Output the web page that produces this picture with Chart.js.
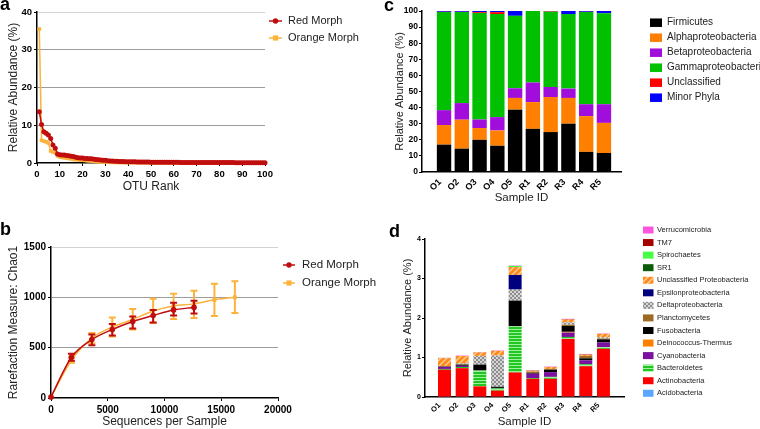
<!DOCTYPE html>
<html lang="en">
<head>
<meta charset="UTF-8">
<title>Morph microbiome figure</title>
<script src="https://cdn.jsdelivr.net/npm/chart.js@4"></script>
<style>
  body { margin: 0; background: #fff; font-family: "Liberation Sans", Arial, sans-serif; }
  #fig { position: relative; width: 760px; height: 429px; overflow: hidden; }
  canvas, .tag { position: absolute; }
  .tag { font-weight: bold; font-size: 18px; line-height: 18px; color: #000; }
</style>
</head>
<body>
<div id="fig">
  <canvas id="chartA" width="380" height="200" style="left:0;top:0"></canvas>
  <canvas id="chartB" width="380" height="229" style="left:0;top:200px"></canvas>
  <canvas id="chartC" width="380" height="212" style="left:380px;top:0"></canvas>
  <canvas id="chartD" width="380" height="214" style="left:380px;top:215px"></canvas>
  <div class="tag" style="left:0;top:-5px">a</div>
  <div class="tag" style="left:0;top:220px">b</div>
  <div class="tag" style="left:384px;top:-4px">c</div>
  <div class="tag" style="left:389px;top:222px">d</div>
</div>

<script>
// ---- panel a: rank abundance (OTU rank 1..100)
const redAbund = [13.6, 10.2, 8.3, 7.9, 7.4, 6.5, 4.8, 3.9, 2.4, 2.2,
  2.1, 2.1, 2.0, 1.9, 1.8, 1.7, 1.5, 1.4, 1.3, 1.3,
  1.2, 1.2, 1.1, 1.1, 1.0, 0.9, 0.85, 0.8, 0.75, 0.7,
  0.6, 0.55, 0.5, 0.48, 0.45, 0.42, 0.4, 0.38, 0.36, 0.34,
  0.32, 0.31, 0.3, 0.29, 0.28, 0.27, 0.26, 0.25, 0.24, 0.23,
  0.22, 0.22, 0.21, 0.21, 0.2, 0.2, 0.19, 0.19, 0.18, 0.18,
  0.17, 0.17, 0.16, 0.16, 0.15, 0.15, 0.15, 0.14, 0.14, 0.14,
  0.13, 0.13, 0.13, 0.12, 0.12, 0.12, 0.12, 0.11, 0.11, 0.11,
  0.11, 0.1, 0.1, 0.1, 0.1, 0.1, 0.09, 0.09, 0.09, 0.09,
  0.09, 0.08, 0.08, 0.08, 0.08, 0.08, 0.08, 0.07, 0.07, 0.07];
const orangeAbund = [35.5, 6.0, 5.8, 5.6, 5.3, 3.2, 2.9, 2.7, 1.9, 1.6,
  1.5, 1.4, 1.3, 1.2, 1.1, 0.95, 0.9, 0.85, 0.8, 0.75,
  0.7, 0.6, 0.55, 0.5, 0.45, 0.4, 0.35, 0.3, 0.28, 0.25,
  0.22, 0.2, 0.18, 0.17, 0.16, 0.15, 0.14, 0.13, 0.12, 0.12,
  0.11, 0.11, 0.1, 0.1, 0.1, 0.09, 0.09, 0.09, 0.08, 0.08,
  0.08, 0.08, 0.07, 0.07, 0.07, 0.07, 0.06, 0.06, 0.06, 0.06,
  0.06, 0.05, 0.05, 0.05, 0.05, 0.05, 0.05, 0.05, 0.05, 0.05,
  0.05, 0.05, 0.04, 0.04, 0.04, 0.04, 0.04, 0.04, 0.04, 0.04,
  0.04, 0.04, 0.04, 0.04, 0.04, 0.04, 0.04, 0.03, 0.03, 0.03,
  0.03, 0.03, 0.03, 0.03, 0.03, 0.03, 0.03, 0.03, 0.03, 0.03];

// ---- panel b: rarefaction (Chao1)
const seqDepth = [0, 1800, 3600, 5400, 7200, 9000, 10800, 12600, 14400, 16200];
const redChao = [10, 405, 580, 680, 760, 820, 875, 900];
const redLow = [null, 370, 525, 620, 690, 750, 820, 840];
const redHigh = [null, 440, 630, 735, 810, 875, 945, 965];
const orangeChao = [10, 375, 595, 705, 780, 865, 915, 935, 975, 1000];
const orangeLow = [null, 350, 545, 610, 680, 745, 785, 795, 815, 845];
const orangeHigh = [null, 400, 645, 800, 885, 985, 1035, 1065, 1135, 1160];

// ---- panels c and d: samples
const sampleIds = ["O1", "O2", "O3", "O4", "O5", "R1", "R2", "R3", "R4", "R5"];

const firmicutes = [17, 14.5, 20, 16.3, 38.7, 26.8, 24.8, 30, 12.5, 11.8];
const alphaProteo = [12.2, 18, 7.3, 9.5, 7.3, 16.6, 21.8, 16, 22.2, 18.7];
const betaProteo = [9.2, 10.3, 5.3, 8.3, 6, 12.2, 6.2, 5.8, 7.4, 11.6];
const gammaProteo = [61, 56.6, 66.2, 64, 45, 44.4, 46.7, 46.3, 57.3, 56.5];
const unclassified = [0.1, 0.1, 0.5, 1.2, 0, 0, 0.3, 0, 0.1, 0];
const minorPhyla = [0.5, 0.5, 0.7, 0.7, 3.0, 0, 0.2, 1.9, 0.5, 1.4];

const acidobacteria = [0.01, 0.01, 0.01, 0.01, 0.02, 0.01, 0.01, 0.01, 0.02, 0.01];
const actinobacteria = [0.68, 0.72, 0.26, 0.15, 0.60, 0.45, 0.45, 1.46, 0.76, 1.21];
const bacteroidetes = [0.02, 0.03, 0.40, 0.06, 1.17, 0.02, 0.05, 0.05, 0.05, 0.04];
const cyanobacteria = [0.05, 0.03, 0.01, 0.01, 0, 0.11, 0.12, 0.11, 0.10, 0.12];
const deinococcus = [0, 0, 0, 0, 0, 0, 0, 0.02, 0, 0];
const fusobacteria = [0.01, 0.03, 0.14, 0.03, 0.65, 0.02, 0.06, 0.15, 0.05, 0.08];
const planctomycetes = [0.01, 0.01, 0, 0, 0, 0.03, 0.02, 0.03, 0.06, 0.02];
const deltaProteo = [0, 0.02, 0.22, 0.79, 0.28, 0, 0, 0.06, 0, 0.03];
const epsilonProteo = [0, 0, 0, 0, 0.37, 0, 0, 0, 0, 0];
const unclProteo = [0.20, 0.19, 0.09, 0.12, 0.20, 0.02, 0.05, 0.07, 0.03, 0.09];
const sr1 = [0, 0, 0, 0, 0, 0, 0, 0, 0, 0];
const spirochaetes = [0, 0, 0, 0, 0.03, 0, 0, 0, 0, 0];
const tm7 = [0.01, 0, 0, 0, 0, 0.01, 0, 0.01, 0.01, 0];
const verrucomicrobia = [0, 0.01, 0.01, 0.01, 0.01, 0, 0.01, 0.01, 0.01, 0.01];

const RED = "#c00d0d";
const ORANGE = "#fbb33c";

Chart.defaults.font.family = '"Liberation Sans", Arial, sans-serif';
Chart.defaults.color = "#000";

// fill patterns for panel d
function makePattern(size, paint) {
  const c = document.createElement("canvas");
  c.width = c.height = size;
  const g = c.getContext("2d");
  paint(g, size);
  return g.createPattern(c, "repeat");
}
const hatchOrange = makePattern(6, (g, s) => {
  g.fillStyle = "#ff8a1a"; g.fillRect(0, 0, s, s);
  g.strokeStyle = "#ffd09a"; g.lineWidth = 1.4;
  g.beginPath();
  g.moveTo(0, s); g.lineTo(s, 0);
  g.moveTo(-1, 1); g.lineTo(1, -1);
  g.moveTo(s - 1, s + 1); g.lineTo(s + 1, s - 1);
  g.stroke();
});
const checkGray = makePattern(4, (g) => {
  g.fillStyle = "#d6d6d6"; g.fillRect(0, 0, 4, 4);
  g.fillStyle = "#8e8e8e"; g.fillRect(0, 0, 2, 2); g.fillRect(2, 2, 2, 2);
});
const stripeGreen = makePattern(3, (g) => {
  g.fillStyle = "#22c622"; g.fillRect(0, 0, 3, 3);
  g.fillStyle = "#9cf29c"; g.fillRect(0, 0, 3, 1);
});

// legend drawn beside the plot
const sideLegend = {
  id: "sideLegend",
  afterDraw(chart, args, o) {
    const ctx = chart.ctx;
    let sets = chart.data.datasets.slice();
    if (o.reverse) sets.reverse();
    ctx.save();
    ctx.font = o.font;
    ctx.textBaseline = "middle";
    sets.forEach((ds, i) => {
      const y = o.y + i * o.step;
      if (o.lines) {
        ctx.strokeStyle = ds.borderColor;
        ctx.lineWidth = 1.5;
        ctx.beginPath(); ctx.moveTo(o.x, y); ctx.lineTo(o.x + o.w, y); ctx.stroke();
        ctx.fillStyle = ds.borderColor;
        const cx = o.x + o.w / 2;
        if (ds.pointStyle === "rect") ctx.fillRect(cx - 2.6, y - 2.6, 5.2, 5.2);
        else { ctx.beginPath(); ctx.arc(cx, y, 2.7, 0, Math.PI * 2); ctx.fill(); }
      } else {
        ctx.fillStyle = ds.backgroundColor;
        ctx.fillRect(o.x, y - o.h / 2, o.w, o.h);
      }
      ctx.fillStyle = "#222";
      ctx.fillText(ds.label, o.textX, y);
    });
    ctx.restore();
  }
};

// vertical error bars for panel b
const errorBars = {
  id: "errorBars",
  afterDatasetDraw(chart, args) {
    const ds = chart.data.datasets[args.index];
    if (!ds.errLow) return;
    const { x, y } = chart.scales;
    const ctx = chart.ctx;
    ctx.save();
    ctx.strokeStyle = ds.borderColor;
    ctx.lineWidth = 2;
    ds.errLow.forEach((lo, i) => {
      if (lo == null) return;
      const px = x.getPixelForValue(seqDepth[i]);
      const y1 = y.getPixelForValue(lo);
      const y2 = y.getPixelForValue(ds.errHigh[i]);
      ctx.beginPath();
      ctx.moveTo(px, y1); ctx.lineTo(px, y2);
      ctx.moveTo(px - 3.5, y1); ctx.lineTo(px + 3.5, y1);
      ctx.moveTo(px - 3.5, y2); ctx.lineTo(px + 3.5, y2);
      ctx.stroke();
    });
    ctx.restore();
  }
};

const axisBorder = { color: "#000", width: 1.5 };
const tickFont = size => ({ size, weight: "bold" });
const plain = v => String(v);
const gridGray = top => ctx => ctx.tick.value === 0 ? "rgba(0,0,0,0)" : (ctx.tick.value === top ? "#d2d2d2" : "#9c9c9c");

// ---------- a
new Chart(document.getElementById("chartA"), {
  type: "line",
  data: {
    datasets: [
      { label: "Red Morph", data: redAbund.map((v, i) => ({ x: i + 1, y: v })),
        borderColor: RED, backgroundColor: RED, pointStyle: "circle", pointRadius: 2.5,
        pointBorderWidth: 0, borderWidth: 1.5, clip: false },
      { label: "Orange Morph", data: orangeAbund.map((v, i) => ({ x: i + 1, y: v })),
        borderColor: ORANGE, backgroundColor: ORANGE, pointStyle: "rect", pointRadius: 2.6,
        pointBorderWidth: 0, borderWidth: 1.5, clip: false }
    ]
  },
  options: {
    responsive: false, animation: false,
    layout: { padding: { top: 12, right: 115, left: 0, bottom: 0 } },
    plugins: {
      legend: { display: false }, tooltip: { enabled: false },
      sideLegend: { lines: true, x: 269, w: 13, textX: 288, y: 21, step: 17, font: "11px 'Liberation Sans', Arial" }
    },
    scales: {
      x: { type: "linear", min: 0, max: 100,
        ticks: { stepSize: 10, font: tickFont(9.5), padding: 3, maxRotation: 0, callback: plain },
        grid: { drawOnChartArea: false, tickColor: "#000", tickLength: 3 },
        border: axisBorder,
        title: { display: true, text: "OTU Rank", color: "#222", font: { size: 12 }, padding: { top: 0, bottom: 6 } },
        afterFit: s => { s.height = 37; } },
      y: { min: 0, max: 40,
        ticks: { stepSize: 10, font: tickFont(9.5), padding: 2, callback: plain },
        grid: { color: gridGray(40), tickColor: "#000", tickLength: 3 },
        border: axisBorder,
        title: { display: true, text: "Relative Abundance (%)", color: "#222", font: { size: 12 }, padding: { top: 6, bottom: 0 } },
        afterFit: s => { s.width = 37; } }
    }
  },
  plugins: [sideLegend]
});

// ---------- b
new Chart(document.getElementById("chartB"), {
  type: "line",
  data: {
    datasets: [
      { label: "Red Morph", data: redChao.map((v, i) => ({ x: seqDepth[i], y: v })),
        errLow: redLow, errHigh: redHigh,
        borderColor: RED, backgroundColor: RED, pointStyle: "circle", pointRadius: 2.8,
        pointBorderWidth: 0, borderWidth: 1.5, cubicInterpolationMode: "monotone", clip: false },
      { label: "Orange Morph", data: orangeChao.map((v, i) => ({ x: seqDepth[i], y: v })),
        errLow: orangeLow, errHigh: orangeHigh,
        borderColor: ORANGE, backgroundColor: ORANGE, pointStyle: "rect", pointRadius: 2.8,
        pointBorderWidth: 0, borderWidth: 1.5, cubicInterpolationMode: "monotone", clip: false }
    ]
  },
  options: {
    responsive: false, animation: false,
    layout: { padding: { top: 47, right: 102, left: 0, bottom: 0 } },
    plugins: {
      legend: { display: false }, tooltip: { enabled: false },
      sideLegend: { lines: true, x: 283, w: 12, textX: 302, y: 65, step: 18, font: "11.5px 'Liberation Sans', Arial" }
    },
    scales: {
      x: { type: "linear", min: 0, max: 20000,
        ticks: { stepSize: 5000, font: tickFont(10), padding: 3, maxRotation: 0, callback: plain },
        grid: { drawOnChartArea: false, tickColor: "#000", tickLength: 3 },
        border: axisBorder,
        title: { display: true, text: "Sequences per Sample", color: "#222", font: { size: 12 }, padding: { top: 0, bottom: 0 } },
        afterFit: s => { s.height = 31; } },
      y: { min: 0, max: 1500,
        ticks: { stepSize: 500, font: tickFont(10), padding: 2, callback: plain },
        grid: { color: gridGray(1500), tickColor: "#000", tickLength: 3 },
        border: axisBorder,
        title: { display: true, text: "Rarefaction Measure: Chao1", color: "#222", font: { size: 12 }, padding: { top: 6, bottom: 0 } },
        afterFit: s => { s.width = 51; } }
    }
  },
  plugins: [sideLegend, errorBars]
});

// ---------- c
const toXY = arr => arr.map((v, i) => ({ x: i, y: v }));
const sampleTicks = s => { s.ticks = sampleIds.map((_, i) => ({ value: i })); };

new Chart(document.getElementById("chartC"), {
  type: "bar",
  data: {
    datasets: [
      { label: "Firmicutes", data: toXY(firmicutes), backgroundColor: "#000000" },
      { label: "Alphaproteobacteria", data: toXY(alphaProteo), backgroundColor: "#ff8000" },
      { label: "Betaproteobacteria", data: toXY(betaProteo), backgroundColor: "#a10ddb" },
      { label: "Gammaproteobacteria", data: toXY(gammaProteo), backgroundColor: "#00c000" },
      { label: "Unclassified", data: toXY(unclassified), backgroundColor: "#ff0000" },
      { label: "Minor Phyla", data: toXY(minorPhyla), backgroundColor: "#0000ff" }
    ].map(d => Object.assign(d, { barPercentage: 0.81, categoryPercentage: 1 }))
  },
  options: {
    responsive: false, animation: false,
    layout: { padding: { top: 11, right: 139, left: 0, bottom: 0 } },
    plugins: {
      legend: { display: false }, tooltip: { enabled: false },
      sideLegend: { x: 270, w: 12, h: 8.5, textX: 287, y: 22.7, step: 15, font: "10px 'Liberation Sans', Arial" }
    },
    scales: {
      x: { type: "linear", stacked: true, min: -0.68, max: 9.4,
        afterBuildTicks: sampleTicks,
        ticks: { callback: v => sampleIds[v], minRotation: 45, maxRotation: 45, autoSkip: false,
          font: tickFont(9), padding: -3, labelOffset: -4 },
        grid: { display: false },
        border: axisBorder,
        title: { display: true, text: "Sample ID", color: "#222", font: { size: 11.5 }, padding: { top: 0, bottom: 7 } },
        afterFit: s => { s.height = 40; } },
      y: { stacked: true, min: 0, max: 100,
        ticks: { stepSize: 10, font: tickFont(8.5), padding: 1, callback: plain },
        grid: { drawOnChartArea: false, tickColor: "#000", tickLength: 3 },
        border: axisBorder,
        title: { display: true, text: "Relative Abundance (%)", color: "#222", font: { size: 11 }, padding: { top: 13, bottom: 0 } },
        afterFit: s => { s.width = 42; } }
    }
  },
  plugins: [sideLegend]
});

// ---------- d (stacked bottom to top; legend reads top to bottom)
new Chart(document.getElementById("chartD"), {
  type: "bar",
  data: {
    datasets: [
      { label: "Acidobacteria", data: toXY(acidobacteria), backgroundColor: "#5aa5ff" },
      { label: "Actinobacteria", data: toXY(actinobacteria), backgroundColor: "#ff0000" },
      { label: "Bacteroidetes", data: toXY(bacteroidetes), backgroundColor: stripeGreen },
      { label: "Cyanobacteria", data: toXY(cyanobacteria), backgroundColor: "#7b0fa0" },
      { label: "Deinococcus-Thermus", data: toXY(deinococcus), backgroundColor: "#ff8000" },
      { label: "Fusobacteria", data: toXY(fusobacteria), backgroundColor: "#000000" },
      { label: "Planctomycetes", data: toXY(planctomycetes), backgroundColor: "#9c6a22" },
      { label: "Deltaproteobacteria", data: toXY(deltaProteo), backgroundColor: checkGray },
      { label: "Epsilonproteobacteria", data: toXY(epsilonProteo), backgroundColor: "#00007f" },
      { label: "Unclassified Proteobacteria", data: toXY(unclProteo), backgroundColor: hatchOrange },
      { label: "SR1", data: toXY(sr1), backgroundColor: "#0a5c0a" },
      { label: "Spirochaetes", data: toXY(spirochaetes), backgroundColor: "#44ff44" },
      { label: "TM7", data: toXY(tm7), backgroundColor: "#a50000" },
      { label: "Verrucomicrobia", data: toXY(verrucomicrobia), backgroundColor: "#ff55dd" }
    ].map(d => Object.assign(d, { barPercentage: 0.735, categoryPercentage: 1 }))
  },
  options: {
    responsive: false, animation: false,
    layout: { padding: { top: 24, right: 136, left: 0, bottom: 0 } },
    plugins: {
      legend: { display: false }, tooltip: { enabled: false },
      sideLegend: { reverse: true, x: 263, w: 10.5, h: 7, textX: 277, y: 15, step: 12.56, font: "7.5px 'Liberation Sans', Arial" }
    },
    scales: {
      x: { type: "linear", stacked: true, min: -0.54, max: 9.6,
        afterBuildTicks: sampleTicks,
        ticks: { callback: v => sampleIds[v], minRotation: 45, maxRotation: 45, autoSkip: false,
          font: tickFont(7.5), padding: -4, labelOffset: -5 },
        grid: { display: false },
        border: axisBorder,
        title: { display: true, text: "Sample ID", color: "#222", font: { size: 11.5 }, padding: { top: 0, bottom: 0 } },
        afterFit: s => { s.height = 32; } },
      y: { stacked: true, min: 0, max: 4,
        ticks: { stepSize: 1, font: tickFont(7), padding: 1, callback: plain },
        grid: { drawOnChartArea: false, tickColor: "#000", tickLength: 3 },
        border: axisBorder,
        title: { display: true, text: "Relative Abundance (%)", color: "#222", font: { size: 11 }, padding: { top: 21, bottom: 0 } },
        afterFit: s => { s.width = 45; } }
    }
  },
  plugins: [sideLegend]
});
</script>
</body>
</html>
